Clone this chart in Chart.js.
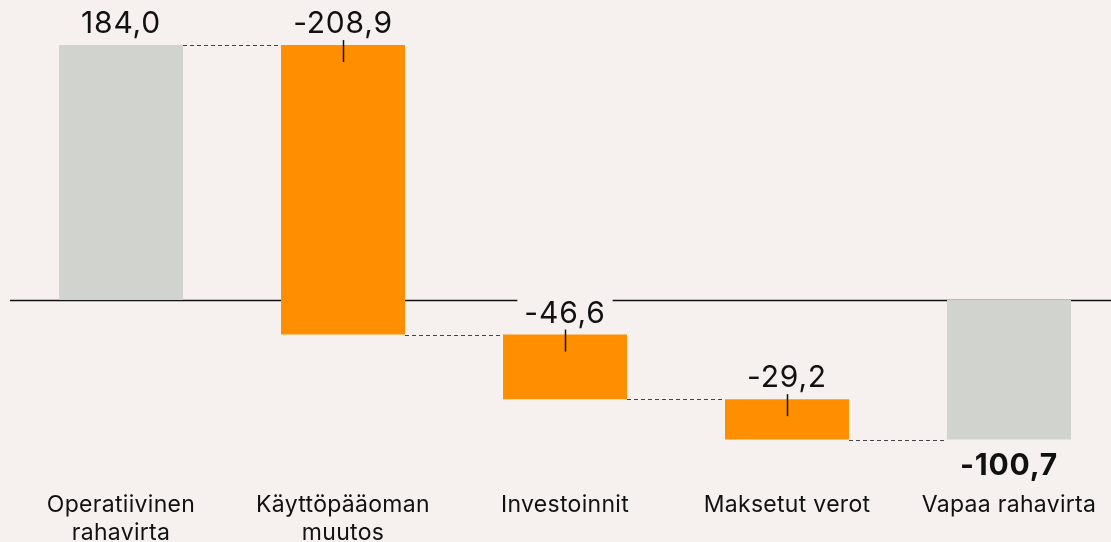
<!DOCTYPE html>
<html>
<head>
<meta charset="utf-8">
<script src="https://cdn.jsdelivr.net/npm/chart.js@4"></script>
<style>
  html, body { margin: 0; padding: 0; background: #f6f1ee; overflow: hidden; }
  #wrap { width: 1120px; height: 542px; }
</style>
</head>
<body>
<div id="wrap"><canvas id="chart" width="1120" height="542"></canvas></div>
<script>
const categories = [['Operatiivinen', 'rahavirta'], ['Käyttöpääoman', 'muutos'], 'Investoinnit', 'Maksetut verot', 'Vapaa rahavirta'];
const values = [184.0, -208.9, -46.6, -29.2, -100.7];
const isTotal = [true, false, false, false, true];
const valueLabels = ['184,0', '-208,9', '-46,6', '-29,2', '-100,7'];

const BG = '#f6f1ee';
const ORANGE = '#ff8f00';
const GREY = '#d1d3ce';

// floating bars: [start, end]
let run = 0;
const ranges = values.map((v, i) => {
  if (isTotal[i]) { run = v; return [0, v]; }
  const r = [run, run + v];
  run += v;
  return r;
});

const ctx = document.getElementById('chart');

const waterfallDecor = {
  id: 'waterfallDecor',
  beforeDraw(chart) {
    chart.ctx.letterSpacing = '0.3px';
  },
  beforeDatasetsDraw(chart) {
    const {ctx, chartArea, scales: {y}} = chart;
    const y0 = Math.round(y.getPixelForValue(0)) + 0.5;
    ctx.save();
    ctx.strokeStyle = '#111';
    ctx.lineWidth = 1.5;
    ctx.beginPath();
    ctx.moveTo(chartArea.left, y0);
    ctx.lineTo(chart.width, y0);
    ctx.stroke();
    ctx.restore();
  },
  afterDatasetsDraw(chart) {
    const {ctx, scales: {y}} = chart;
    const bars = chart.getDatasetMeta(0).data;
    ctx.save();
    // connectors
    ctx.strokeStyle = '#444';
    ctx.lineWidth = 1;
    ctx.setLineDash([4, 3]);
    for (let i = 0; i < bars.length - 1; i++) {
      const lvl = Math.round(y.getPixelForValue(ranges[i][1])) + 0.5;
      ctx.beginPath();
      ctx.moveTo(bars[i].x + bars[i].width / 2, lvl);
      ctx.lineTo(bars[i + 1].x - bars[i + 1].width / 2, lvl);
      ctx.stroke();
    }
    ctx.setLineDash([]);
    // labels
    ctx.textAlign = 'center';
    ctx.textBaseline = 'alphabetic';
    ctx.letterSpacing = '0.8px';
    bars.forEach((b, i) => {
      const top = y.getPixelForValue(Math.max(ranges[i][0], ranges[i][1]));
      const bottom = y.getPixelForValue(Math.min(ranges[i][0], ranges[i][1]));
      const last = i === bars.length - 1;
      ctx.font = (last ? 'bold ' : '') + '30px Inter';
      const by = last ? bottom + 35 : top - 12;
      const w = ctx.measureText(valueLabels[i]).width;
      if (!last) {
        ctx.fillStyle = BG;
        ctx.fillRect(b.x - w / 2 - 7, by - 26, w + 14, 30);
      }
      ctx.fillStyle = '#111';
      ctx.fillText(valueLabels[i], b.x, by);
      if (!isTotal[i]) {
        ctx.strokeStyle = '#111';
        ctx.lineWidth = 1.5;
        ctx.beginPath();
        ctx.moveTo(Math.round(b.x) + 0.5, top - 5);
        ctx.lineTo(Math.round(b.x) + 0.5, top + 17);
        ctx.stroke();
      }
    });
    ctx.restore();
  }
};

new Chart(ctx, {
  type: 'bar',
  data: {
    labels: categories,
    datasets: [{
      data: ranges,
      backgroundColor: isTotal.map(t => t ? GREY : ORANGE),
      borderWidth: 0,
      barPercentage: 1,
      categoryPercentage: 124 / 222
    }]
  },
  options: {
    responsive: false,
    animation: false,
    layout: { padding: { left: 10, right: 0, top: 0, bottom: 0 } },
    plugins: { legend: { display: false }, tooltip: { enabled: false } },
    scales: {
      x: {
        grid: { display: false, drawTicks: false },
        border: { display: false },
        ticks: {
          color: '#111',
          font: { family: 'Inter', size: 23, lineHeight: 1.22 },
          padding: 4,
          maxRotation: 0,
          autoSkip: false
        },
        afterFit(scale) { scale.height = 55; }
      },
      y: {
        display: false,
        min: -134.9,
        max: 216.5
      }
    }
  },
  plugins: [waterfallDecor]
});
</script>
</body>
</html>
